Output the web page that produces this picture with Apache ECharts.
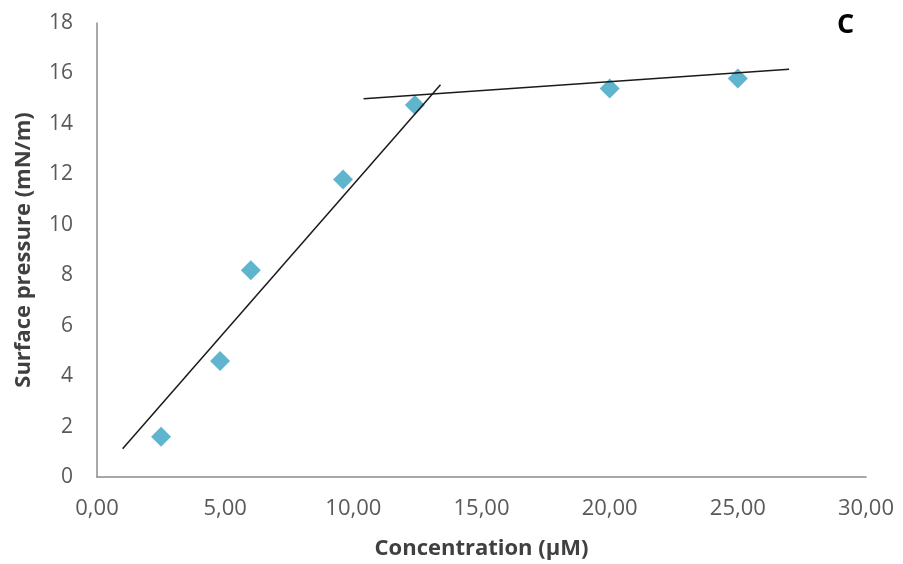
<!DOCTYPE html>
<html>
<head>
<meta charset="utf-8">
<script src="https://cdn.jsdelivr.net/npm/echarts@6/dist/echarts.min.js"></script>
<style>
    html, body { margin: 0; padding: 0; background: #fff; }
    #chart { width: 903px; height: 564px; }
</style>
</head>
<body>
<div id="chart"></div>
<script>
// measured points
const concentration = [2.5, 4.8, 6.0, 9.6, 12.4, 20.0, 25.0];
const pressure = [1.6, 4.6, 8.2, 11.8, 14.75, 15.4, 15.8];

// hand drawn trend lines (end points)
const riseLineX = [1.0, 13.4];
const riseLineY = [1.12, 15.55];
const plateauLineX = [10.4, 27.0];
const plateauLineY = [15.0, 16.17];

const xTicks = [0, 5, 10, 15, 20, 25, 30];
const yTicks = [0, 2, 4, 6, 8, 10, 12, 14, 16, 18];

const font = '"Open Sans", "Liberation Sans", sans-serif';

function pairs (xs, ys) {
    return xs.map((x, i) => [x, ys[i]]);
}

let chart = echarts.init(document.getElementById('chart'));
chart.setOption({
    animation: false,
    backgroundColor: '#fff',
    grid: { left: 97, right: 37, top: 23, bottom: 87, outerBoundsMode: 'none', containLabel: false },
    title: {
        text: 'C',
        left: 832,
        top: 7,
        textStyle: { fontFamily: font, fontSize: 27, fontWeight: 'bold', color: '#000' }
    },
    xAxis: {
        type: 'value',
        min: xTicks[0],
        max: xTicks[xTicks.length - 1],
        interval: 5,
        name: 'Concentration (µM)',
        nameLocation: 'middle',
        nameGap: 61,
        nameTextStyle: { fontFamily: font, fontSize: 22, fontWeight: 'bold', color: '#404040' },
        axisLine: { lineStyle: { color: '#8c8c8c', width: 1.5 } },
        axisTick: { show: false },
        splitLine: { show: false },
        axisLabel: {
            margin: 21,
            fontFamily: font, fontSize: 22, color: '#595959',
            formatter: v => v.toFixed(2).replace('.', ',')
        }
    },
    yAxis: {
        type: 'value',
        min: yTicks[0],
        max: yTicks[yTicks.length - 1],
        interval: 2,
        name: 'Surface pressure (mN/m)',
        nameLocation: 'middle',
        nameGap: 62,
        nameTextStyle: { fontFamily: font, fontSize: 22, fontWeight: 'bold', color: '#404040' },
        axisLine: { show: true, lineStyle: { color: '#8c8c8c', width: 1.5 } },
        axisTick: { show: false },
        splitLine: { show: false },
        axisLabel: { margin: 24, fontFamily: font, fontSize: 21, color: '#595959' }
    },
    series: [
        {
            type: 'line',
            data: pairs(riseLineX, riseLineY),
            showSymbol: false,
            lineStyle: { color: '#1a1a1a', width: 1.5 },
            z: 3
        },
        {
            type: 'line',
            data: pairs(plateauLineX, plateauLineY),
            showSymbol: false,
            lineStyle: { color: '#1a1a1a', width: 1.5 },
            z: 3
        },
        {
            type: 'scatter',
            data: pairs(concentration, pressure),
            symbol: 'diamond',
            symbolSize: [20, 20],
            itemStyle: { color: '#38a2c2' },
            z: 2
        }
    ]
});
</script>
</body>
</html>
